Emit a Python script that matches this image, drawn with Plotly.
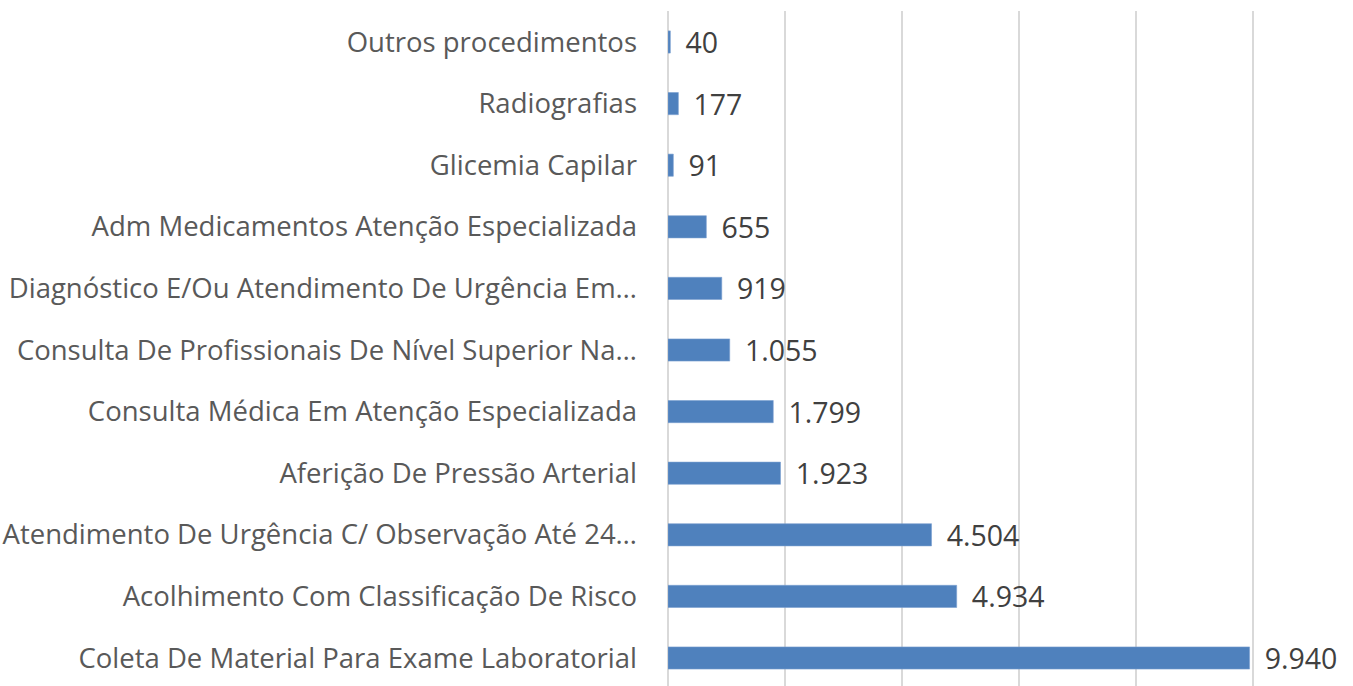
import plotly.graph_objects as go

# Procedures, listed top to bottom as they appear on the chart
procedures = [
    "Outros procedimentos",
    "Radiografias",
    "Glicemia Capilar",
    "Adm Medicamentos Atenção Especializada",
    "Diagnóstico E/Ou Atendimento De Urgência Em…",
    "Consulta De Profissionais De Nível Superior Na…",
    "Consulta Médica Em Atenção Especializada",
    "Aferição De Pressão Arterial",
    "Atendimento De Urgência C/ Observação Até 24…",
    "Acolhimento Com Classificação De Risco",
    "Coleta De Material Para Exame Laboratorial",
]
quantities = [40, 177, 91, 655, 919, 1055, 1799, 1923, 4504, 4934, 9940]

label_font = dict(family="Open Sans", size=28.5, color="#404040")

fig = go.Figure(
    go.Bar(
        x=quantities,
        y=procedures,
        orientation="h",
        width=0.36,
        marker=dict(color="#4F81BD", line=dict(color="#7A9FD0", width=0.6)),
        texttemplate="\u2006 %{x:,}",
        textposition="outside",
        constraintext="none",
        cliponaxis=False,
        textfont=label_font,
        outsidetextfont=label_font,
        hoverinfo="skip",
    )
)

fig.update_layout(
    width=1353,
    height=686,
    margin=dict(l=668, r=97, t=11, b=0),
    plot_bgcolor="white",
    paper_bgcolor="white",
    separators=",.",
    showlegend=False,
    uniformtext=dict(mode=False),
    xaxis=dict(
        range=[0, 10050],
        tickvals=[0, 2000, 4000, 6000, 8000, 10000],
        showticklabels=False,
        showgrid=True,
        gridcolor="#D9D9D9",
        gridwidth=1.5,
        zeroline=True,
        zerolinecolor="#D9D9D9",
        zerolinewidth=1.5,
        showline=False,
        automargin=False,
        fixedrange=True,
    ),
    yaxis=dict(
        categoryorder="array",
        categoryarray=procedures,
        range=[10.4545, -0.503],
        showgrid=False,
        zeroline=False,
        showline=False,
        ticks="",
        ticklabelstandoff=30,
        automargin=False,
        tickfont=dict(family="Open Sans", size=27.5, color="#595959"),
        fixedrange=True,
    ),
)

fig.write_html("out.html")
